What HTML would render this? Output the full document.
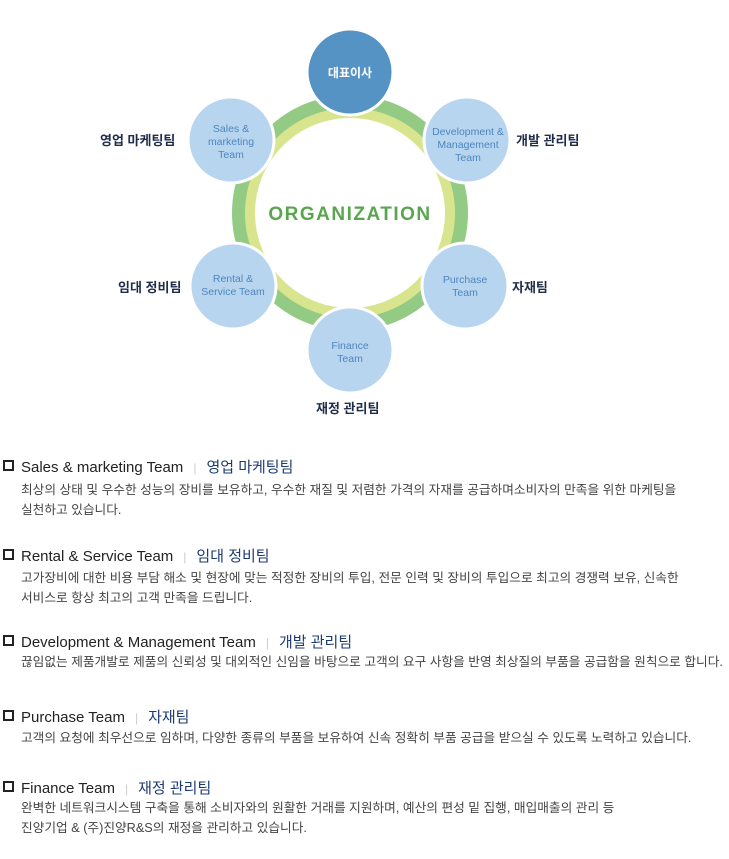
<!DOCTYPE html>
<html><head><meta charset="utf-8"><style>
body{margin:0;width:729px;height:859px;background:#fff;font-family:"Liberation Sans","Noto Sans CJK KR",sans-serif;position:relative;overflow:hidden}
.a{position:absolute;white-space:nowrap}
.lbl{font-size:13px;color:#1f2d4a;font-weight:bold}
.h{font-size:15px;color:#222;left:21px}
.h .k{color:#1d3b73}
.h .sep{color:#ccc;margin:0 10px;font-size:12px}
.sq{position:absolute;left:3px;width:7px;height:7px;border:2px solid #222}
.b{font-size:12.7px;color:#444;left:21px;line-height:20px}
</style></head><body>
<svg class="a" style="left:0;top:0" width="729" height="440">
<circle cx="350" cy="213" r="111" fill="none" stroke="#93ca84" stroke-width="14"/>
<circle cx="350" cy="213" r="100" fill="none" stroke="#d9e58e" stroke-width="10"/>
<g stroke="#fff" stroke-width="3">
<circle cx="350" cy="72" r="43" fill="#5593c5"/>
<circle cx="467" cy="140" r="43" fill="#b8d5f0"/>
<circle cx="231" cy="140" r="43" fill="#b8d5f0"/>
<circle cx="233" cy="286" r="43" fill="#b8d5f0"/>
<circle cx="465" cy="286" r="43" fill="#b8d5f0"/>
<circle cx="350" cy="350" r="43" fill="#b8d5f0"/>
</g>
<text x="350" y="220" text-anchor="middle" font-family="Liberation Sans" font-weight="bold" font-size="19" fill="#5aa64f" letter-spacing="1.5">ORGANIZATION</text>
<g font-family="Liberation Sans,Noto Sans CJK KR,sans-serif" font-size="10.5" fill="#4d86bf" text-anchor="middle">
<text x="350" y="77" fill="#fff" font-size="12" font-weight="bold">대표이사</text>
<text x="468" y="135">Development &amp;</text><text x="468" y="148">Management</text><text x="468" y="161">Team</text>
<text x="231" y="132">Sales &amp;</text><text x="231" y="145">marketing</text><text x="231" y="158">Team</text>
<text x="233" y="282">Rental &amp;</text><text x="233" y="295">Service Team</text>
<text x="465" y="283">Purchase</text><text x="465" y="296">Team</text>
<text x="350" y="349">Finance</text><text x="350" y="362">Team</text>
</g>
</svg>
<div class="a lbl" style="left:100px;top:130px">영업 마케팅팀</div>
<div class="a lbl" style="left:516px;top:130px">개발 관리팀</div>
<div class="a lbl" style="left:118px;top:277px">임대 정비팀</div>
<div class="a lbl" style="left:512px;top:277px">자재팀</div>
<div class="a lbl" style="left:316px;top:398px">재정 관리팀</div>

<div class="sq" style="top:460px"></div><div class="a h" style="top:456px">Sales &amp; marketing Team<span class="sep">|</span><span class="k">영업 마케팅팀</span></div>
<div class="a b" style="top:480px">최상의 상태 및 우수한 성능의 장비를 보유하고, 우수한 재질 및 저렴한 가격의 자재를 공급하며소비자의 만족을 위한 마케팅을<br>실천하고 있습니다.</div>
<div class="sq" style="top:549px"></div><div class="a h" style="top:545px">Rental &amp; Service Team<span class="sep">|</span><span class="k">임대 정비팀</span></div>
<div class="a b" style="top:568px">고가장비에 대한 비용 부담 해소 및 현장에 맞는 적정한 장비의 투입, 전문 인력 및 장비의 투입으로 최고의 경쟁력 보유, 신속한<br>서비스로 항상 최고의 고객 만족을 드립니다.</div>
<div class="sq" style="top:635px"></div><div class="a h" style="top:631px">Development &amp; Management Team<span class="sep">|</span><span class="k">개발 관리팀</span></div>
<div class="a b" style="top:652px">끊임없는 제품개발로 제품의 신뢰성 및 대외적인 신임을 바탕으로 고객의 요구 사항을 반영 최상질의 부품을 공급함을 원칙으로 합니다.</div>
<div class="sq" style="top:710px"></div><div class="a h" style="top:706px">Purchase Team<span class="sep">|</span><span class="k">자재팀</span></div>
<div class="a b" style="top:728px">고객의 요청에 최우선으로 임하며, 다양한 종류의 부품을 보유하여 신속 정확히 부품 공급을 받으실 수 있도록 노력하고 있습니다.</div>
<div class="sq" style="top:781px"></div><div class="a h" style="top:777px">Finance Team<span class="sep">|</span><span class="k">재정 관리팀</span></div>
<div class="a b" style="top:798px">완벽한 네트워크시스템 구축을 통해 소비자와의 원활한 거래를 지원하며, 예산의 편성 밑 집행, 매입매출의 관리 등<br>진양기업 &amp; (주)진양R&amp;S의 재정을 관리하고 있습니다.</div>
</body></html>
